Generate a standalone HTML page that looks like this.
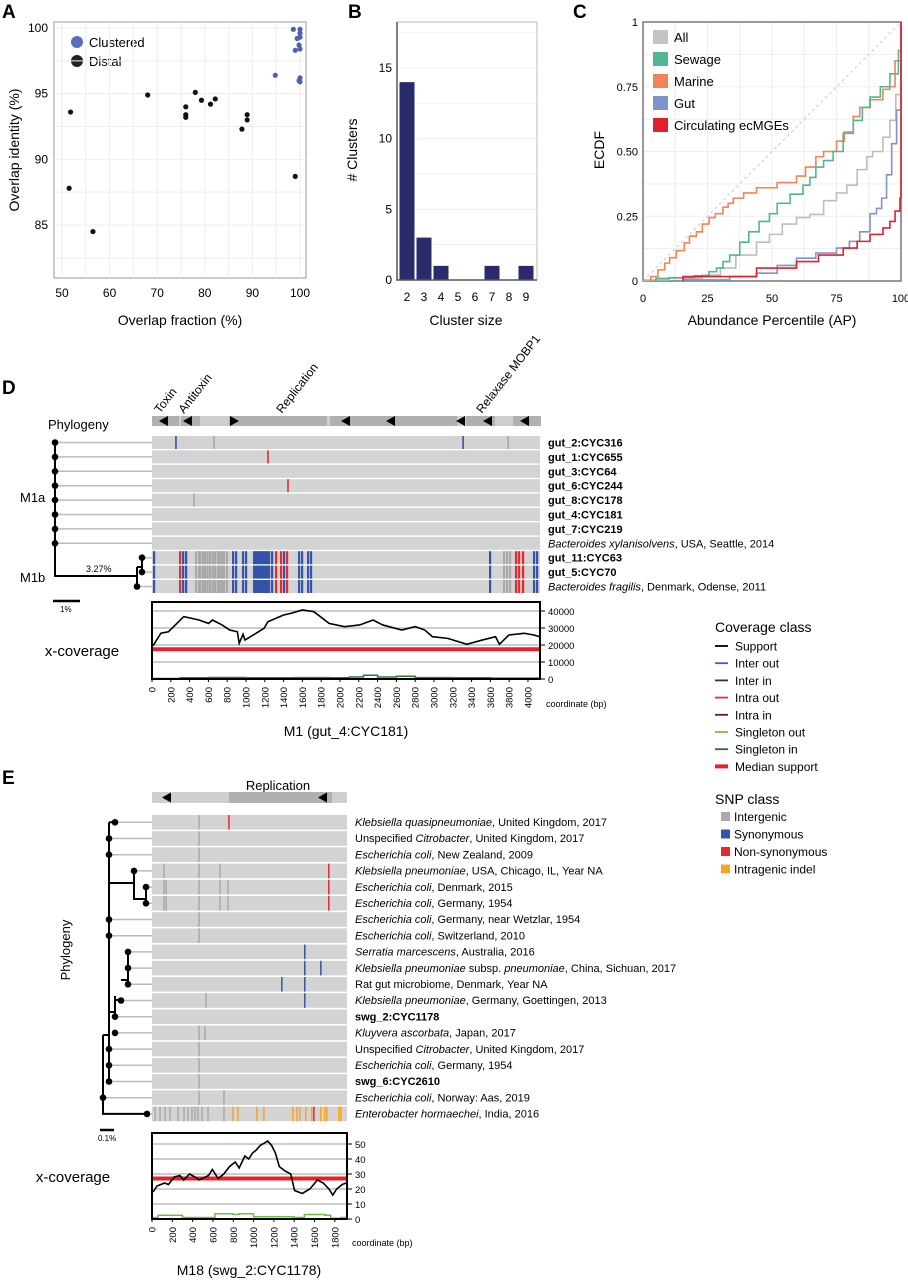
<!DOCTYPE html>
<html><head><meta charset="utf-8"><style>
html,body{margin:0;padding:0;background:#fff}
svg{display:block;font-family:"Liberation Sans",Arial,sans-serif}
</style></head><body>
<svg id="fig" width="908" height="1280" viewBox="0 0 908 1280" xmlns="http://www.w3.org/2000/svg">
<rect x="0" y="0" width="908" height="1280" fill="#fff"/>
<!-- Panel letters -->
<text x="2" y="18" font-size="19" font-weight="bold">A</text>
<text x="348" y="18" font-size="19" font-weight="bold">B</text>
<text x="573" y="18" font-size="19" font-weight="bold">C</text>
<text x="2" y="394" font-size="19" font-weight="bold">D</text>
<text x="2" y="784" font-size="19" font-weight="bold">E</text>

<!-- Panel A static -->
<g id="pa">
<rect x="54" y="22" width="252" height="256" fill="none" stroke="#999" stroke-width="1"/>
<text transform="translate(19,150) rotate(-90)" text-anchor="middle" font-size="14">Overlap identity (%)</text>
<text x="180" y="325" text-anchor="middle" font-size="14">Overlap fraction (%)</text>
<circle cx="77" cy="42" r="6" fill="#5b6cb8"/>
<text x="89" y="47" font-size="13">Clustered</text>
<circle cx="77" cy="61" r="6" fill="#222"/>
<text x="89" y="66" font-size="13">Distal</text>
</g>
<!-- Panel B static -->
<g id="pb">
<rect x="397" y="22" width="140" height="258" fill="none" stroke="#bbb" stroke-width="1"/>
<text transform="translate(357,150) rotate(-90)" text-anchor="middle" font-size="14"># Clusters</text>
<text x="466" y="325" text-anchor="middle" font-size="14">Cluster size</text>
</g>
<!-- Panel C static -->
<g id="pc">
<text transform="translate(604,150) rotate(-90)" text-anchor="middle" font-size="14">ECDF</text>
<text x="772" y="325" text-anchor="middle" font-size="14">Abundance Percentile (AP)</text>
</g>

<!-- Panel D static -->
<g id="pd">
<text x="48" y="429" font-size="13">Phylogeny</text>
<text transform="translate(160,414) rotate(-52)" font-size="12">Toxin</text>
<text transform="translate(184,414) rotate(-52)" font-size="12">Antitoxin</text>
<text transform="translate(282,414) rotate(-52)" font-size="12">Replication</text>
<text transform="translate(482,414) rotate(-52)" font-size="12">Relaxase MOBP1</text>
<text x="20" y="502" font-size="13">M1a</text>
<text x="20" y="582" font-size="13">M1b</text>
<text x="86" y="572" font-size="9">3.27%</text>
<line x1="53" y1="601" x2="80" y2="601" stroke="#000" stroke-width="2.5"/>
<text x="60" y="612" font-size="8">1%</text>
<g font-size="11">
<text x="548" y="446.5" font-weight="bold">gut_2:CYC316</text>
<text x="548" y="460.9" font-weight="bold">gut_1:CYC655</text>
<text x="548" y="475.3" font-weight="bold">gut_3:CYC64</text>
<text x="548" y="489.7" font-weight="bold">gut_6:CYC244</text>
<text x="548" y="504.1" font-weight="bold">gut_8:CYC178</text>
<text x="548" y="518.5" font-weight="bold">gut_4:CYC181</text>
<text x="548" y="532.9" font-weight="bold">gut_7:CYC219</text>
<text x="548" y="547.3"><tspan font-style="italic">Bacteroides xylanisolvens</tspan>, USA, Seattle, 2014</text>
<text x="548" y="561.7" font-weight="bold">gut_11:CYC63</text>
<text x="548" y="576.1" font-weight="bold">gut_5:CYC70</text>
<text x="548" y="590.5"><tspan font-style="italic">Bacteroides fragilis</tspan>, Denmark, Odense, 2011</text>
</g>
<text x="82" y="656" text-anchor="middle" font-size="15">x-coverage</text>
<text x="546" y="707" font-size="9">coordinate (bp)</text>
<text x="346" y="736" text-anchor="middle" font-size="14">M1 (gut_4:CYC181)</text>
</g>

<!-- Legend -->
<g id="legend" font-size="12">
<text x="715" y="632" font-size="14">Coverage class</text>
<text x="715" y="804" font-size="14">SNP class</text>
</g>

<!-- Panel E static -->
<g id="pe">
<text x="278" y="790" text-anchor="middle" font-size="13">Replication</text>
<text transform="translate(70,950) rotate(-90)" text-anchor="middle" font-size="13">Phylogeny</text>
<line x1="100" y1="1130" x2="114" y2="1130" stroke="#000" stroke-width="2.5"/>
<text x="98" y="1141" font-size="8">0.1%</text>
<g font-size="11">
<text x="355" y="826"><tspan font-style="italic">Klebsiella quasipneumoniae</tspan>, United Kingdom, 2017</text>
<text x="355" y="842.2">Unspecified <tspan font-style="italic">Citrobacter</tspan>, United Kingdom, 2017</text>
<text x="355" y="858.4"><tspan font-style="italic">Escherichia coli</tspan>, New Zealand, 2009</text>
<text x="355" y="874.6"><tspan font-style="italic">Klebsiella pneumoniae</tspan>, USA, Chicago, IL, Year NA</text>
<text x="355" y="890.8"><tspan font-style="italic">Escherichia coli</tspan>, Denmark, 2015</text>
<text x="355" y="907"><tspan font-style="italic">Escherichia coli</tspan>, Germany, 1954</text>
<text x="355" y="923.2"><tspan font-style="italic">Escherichia coli</tspan>, Germany, near Wetzlar, 1954</text>
<text x="355" y="939.4"><tspan font-style="italic">Escherichia coli</tspan>, Switzerland, 2010</text>
<text x="355" y="955.6"><tspan font-style="italic">Serratia marcescens</tspan>, Australia, 2016</text>
<text x="355" y="971.8"><tspan font-style="italic">Klebsiella pneumoniae</tspan> subsp. <tspan font-style="italic">pneumoniae</tspan>, China, Sichuan, 2017</text>
<text x="355" y="988">Rat gut microbiome, Denmark, Year NA</text>
<text x="355" y="1004.2"><tspan font-style="italic">Klebsiella pneumoniae</tspan>, Germany, Goettingen, 2013</text>
<text x="355" y="1020.4" font-weight="bold">swg_2:CYC1178</text>
<text x="355" y="1036.6"><tspan font-style="italic">Kluyvera ascorbata</tspan>, Japan, 2017</text>
<text x="355" y="1052.8">Unspecified <tspan font-style="italic">Citrobacter</tspan>, United Kingdom, 2017</text>
<text x="355" y="1069"><tspan font-style="italic">Escherichia coli</tspan>, Germany, 1954</text>
<text x="355" y="1085.2" font-weight="bold">swg_6:CYC2610</text>
<text x="355" y="1101.4"><tspan font-style="italic">Escherichia coli</tspan>, Norway: Aas, 2019</text>
<text x="355" y="1117.6"><tspan font-style="italic">Enterobacter hormaechei</tspan>, India, 2016</text>
</g>
<text x="73" y="1182" text-anchor="middle" font-size="15">x-coverage</text>
<text x="352" y="1246" font-size="9">coordinate (bp)</text>
<text x="249" y="1275" text-anchor="middle" font-size="14">M18 (swg_2:CYC1178)</text>
</g>
</svg>
<script>
// ---------- DATA ----------
const A_distal_x = [51.8,51.5,56.5,68,76,76,76,78,79.3,81.2,82.2,87.8,88.9,88.9,99];
const A_distal_y = [93.6,87.8,84.5,94.9,94,93.4,93.2,95.1,94.5,94.2,94.6,92.3,93,93.4,88.7];
const A_clust_x = [94.8,98.6,99,99.4,99.8,100,100,100,100,100,100,99.8];
const A_clust_y = [96.4,99.9,98.3,99.2,98.7,99.9,99.6,99.3,98.4,96.2,95.9,96];
const A_xticks = [50,60,70,80,90,100];
const A_yticks = [85,90,95,100];

const B_sizes = [2,3,4,5,6,7,8,9];
const B_counts = [14,3,1,0,0,1,0,1];
const B_yticks = [0,5,10,15];

const C_xticks = [0,25,50,75,100];
const C_yticks = [0,0.25,0.5,0.75,1];
const C_yticklabels = ["0","0.25","0.50","0.75","1"];
const C_marine_x = [3,5.8,8.4,10.3,12.9,16,18,20.7,23,25.6,28,31,33,35,39,44,52,59.5,63,67,70,75,78,81.5,84,88,93,95.7,97.7,99.6,100];
const C_marine_y = [0.017,0.043,0.069,0.09,0.117,0.147,0.173,0.19,0.22,0.245,0.26,0.285,0.30,0.32,0.34,0.36,0.38,0.405,0.44,0.48,0.50,0.54,0.575,0.635,0.67,0.70,0.74,0.75,0.85,0.85,1];
const C_sewage_x = [4,5,10,20,25.6,28.5,31,33.6,37.5,41,45,49,52,57,62,64.7,67,70,73.7,77.6,81.5,85,88,92,95.7,99,100,100];
const C_sewage_y = [0,0.01,0.013,0.02,0.036,0.05,0.075,0.10,0.15,0.19,0.23,0.26,0.30,0.335,0.37,0.40,0.44,0.465,0.50,0.57,0.62,0.67,0.71,0.75,0.80,0.89,0.97,1];
const C_all_x = [1,10,23,30,36,44,49,54,59.5,64.7,70,75,79,83,86.7,89,93,95.7,98,100,100];
const C_all_y = [0.004,0.01,0.023,0.05,0.10,0.15,0.18,0.22,0.245,0.257,0.31,0.34,0.37,0.43,0.48,0.50,0.555,0.62,0.72,0.85,1];
const C_gut_x = [15.5,33.6,44,52,59.5,67,75,80,84,88,90.5,92.5,94.4,96.4,98.3,100,100];
const C_gut_y = [0.004,0.017,0.03,0.06,0.088,0.108,0.127,0.153,0.19,0.26,0.28,0.32,0.41,0.53,0.66,0.83,1];
const C_circ_x = [15.5,44,59.5,68,77.6,83,88,93,95.7,97.7,99.6,100];
const C_circ_y = [0.017,0.05,0.075,0.10,0.127,0.153,0.18,0.205,0.23,0.27,0.32,1];

const D_rows = ["gut_2","gut_1","gut_3","gut_6","gut_8","gut_4","gut_7","bxyl","gut_11","gut_5","bfrag"];
const D_snp_row = [0,0,0,0,1,3,4];
const D_snp_bp = [255,660,3310,3790,1234,1447,447];
const D_snp_cls = ["syn","ig","syn","ig","non","non","ig"];
const D_clu_bp = [21,298,330,362,468,500,511,540,564,590,617,645,670,700,723,745,766,798,862,894,968,1000,1085,1100,1117,1133,1149,1165,1181,1197,1213,1229,1245,1277,1319,1372,1404,1436,1564,1596,1660,1691,3596,3745,3777,3809,3872,3904,3947,4064,4096];
const D_clu_cls = ["syn","non","syn","syn","ig","ig","ig","ig","ig","ig","ig","ig","ig","ig","ig","ig","ig","ig","syn","syn","syn","syn","syn","syn","syn","syn","syn","syn","syn","syn","syn","syn","syn","syn","non","non","syn","non","syn","syn","syn","syn","syn","ig","ig","ig","non","non","non","syn","syn"];
const D_cov_bp = [12,94,175,338,500,602,643,745,826,908,928,969,989,1192,1233,1396,1477,1600,1722,1884,2047,2210,2352,2454,2658,2800,2902,2983,3146,3350,3512,3655,3696,3797,3960,4062,4123];
const D_cov_val = [19600,26900,27800,36700,34700,32700,34700,31800,28800,27800,21000,26300,22900,29800,33700,37600,38600,40600,39600,32700,30800,31800,34700,31800,28800,30800,28800,24900,23900,20400,22900,24900,20400,25900,26900,25900,24900];
const D_sing_bp = [0,300,600,1000,1500,1900,2100,2250,2400,2600,2800,3200,3600,4123];
const D_sing_val = [300,700,900,700,800,700,1200,2200,1200,1600,800,700,500,400];
const D_median = 17500;
const D_yticks = [0,10000,20000,30000,40000];
const D_xticks = [0,200,400,600,800,1000,1200,1400,1600,1800,2000,2200,2400,2600,2800,3000,3200,3400,3600,3800,4000];

const E_snp_row = [0,1,2,6,7,13,14,15,16,17,0,3,4,5,3,4,5,4,5,3,4,5,8,9,9,10,10,11,11,13,17];
const E_snp_bp = [462,462,462,462,462,462,462,462,462,462,757,462,462,462,118,118,118,138,138,669,669,669,1504,1504,1662,1278,1504,531,1504,521,708];
const E_snp_cls = ["ig","ig","ig","ig","ig","ig","ig","ig","ig","ig","non","ig","ig","ig","ig","ig","ig","ig","ig","ig","ig","ig","syn","syn","syn","syn","syn","ig","syn","ig","ig"];
const E_extra_bp = [747,747,1740,1740,1740];
const E_extra_row = [4,5,3,4,5];
const E_extra_cls = ["ig","ig","non","non","non"];
const E_last_bp = [30,79,128,177,256,315,354,393,423,452,492,551,708,797,846,1032,1101,1386,1426,1455,1514,1573,1593,1662,1701,1721,1839,1858];
const E_last_cls = ["ig","ig","ig","ig","ig","ig","ig","ig","ig","ig","ig","ig","ig","ind","ind","ind","ind","ind","ind","ind","ind","ind","non","ind","ind","ind","ind","ind"];
const E_cov_bp = [11,49,124,162,218,275,312,369,425,463,557,594,651,707,764,820,858,914,952,990,1027,1065,1140,1178,1215,1253,1310,1366,1404,1479,1554,1629,1686,1742,1780,1818,1874,1912];
const E_cov_val = [18,22,24,23,28,29,26,30,28,26,29,33,27,30,35,38,34,42,40,44,46,49,52,49,44,35,32,30,19,17,20,26,24,20,16,20,23,24];
const E_sing_bp = [0,60,200,300,580,620,800,860,1000,1400,1500,1700,1760,1860,1920];
const E_sing_val = [1,2.5,2.5,1,1,3.5,3,3.5,1.5,1,3,2.5,0.5,1,3];
const E_median = 27;
const E_yticks = [0,10,20,30,40,50];
const E_xticks = [0,200,400,600,800,1000,1200,1400,1600,1800];

const LEG_cov_names = ["Support","Inter out","Inter in","Intra out","Intra in","Singleton out","Singleton in","Median support"];
const LEG_snp_names = ["Intergenic","Synonymous","Non-synonymous","Intragenic indel"];

// ---------- helpers ----------
const NS = "http://www.w3.org/2000/svg";
const svg = document.getElementById('fig');
function mk(tag, attrs, parent) {
  const e = document.createElementNS(NS, tag);
  for (const k in attrs) e.setAttribute(k, attrs[k]);
  (parent || svg).appendChild(e);
  return e;
}
function lin(d0, d1, r0, r1) { return v => r0 + (v - d0) * (r1 - r0) / (d1 - d0); }
function tx(str, attrs, parent) { const t = mk('text', attrs, parent); t.textContent = str; return t; }
const SNPC = {ig:"#a9a9a9", syn:"#3553a8", non:"#e42a2f", ind:"#f5a623"};

// ---------- Panel A ----------
(function(){
  const g = document.getElementById('pa');
  const x = lin(50, 100, 62, 300), y = lin(100, 85, 28, 225);
  for (let v = 50; v <= 100; v += 5) { const l = mk('line', {x1:x(v), x2:x(v), y1:22, y2:278, stroke:"#eee"}, g);
    
     }
  for (let v = 82.5; v <= 100; v += 2.5) { const l = mk('line', {x1:54, x2:306, y1:y(v), y2:y(v), stroke:"#eee"}, g);
    
     }
  A_xticks.forEach(v => { const t = tx(v, {x:x(v), y:297, "text-anchor":"middle", "font-size":12}, g);
    
     });
  A_yticks.forEach(v => { const t = tx(v, {x:48, y:y(v)+4, "text-anchor":"end", "font-size":12}, g);
    
     });
  A_distal_x.forEach((v,i) => { const c = mk('circle', {cx:x(v), cy:y(A_distal_y[i]), r:2.6, fill:"#111"}, g);
    
     });
  A_clust_x.forEach((v,i) => { const c = mk('circle', {cx:x(v), cy:y(A_clust_y[i]), r:2.6, fill:"#4d62b3"}, g);
    
     });
})();

// ---------- Panel B ----------
(function(){
  const g = document.getElementById('pb');
  const y = lin(0, 15, 280, 68);
  const x = s => 407 + (s - 2) * 17;
  [2.5,5,7.5,10,12.5,15,17.5].forEach(v => { const l = mk('line', {x1:397, x2:537, y1:y(v), y2:y(v), stroke:"#f0f0f0"}, g);
    
     });
  B_sizes.forEach((s,i) => {
    const r = mk('rect', {x:x(s)-7.5, y:y(B_counts[i]), width:15, height:280-y(B_counts[i]), fill:"#2b2a6b"}, g);
    
    
    const t = tx(s, {x:x(s), y:301, "text-anchor":"middle", "font-size":12}, g);
    
    
  });
  B_yticks.forEach(v => { const t = tx(v, {x:392, y:y(v)+4, "text-anchor":"end", "font-size":12}, g);
    
     });
  const ax = mk('path', {d:"M397 22 V280 H537", fill:"none", stroke:"#555", "stroke-width":1.5}, g);
  
  
})();

// ---------- Panel C ----------
(function(){
  const g = document.getElementById('pc');
  const x = lin(0, 100, 643, 901), y = lin(0, 1, 281, 22);
  for (let v = 0; v <= 100; v += 12.5) { const l = mk('line', {x1:x(v), x2:x(v), y1:22, y2:281, stroke:"#eee"}, g);
    
     }
  for (let v = 0; v <= 1; v += 0.125) { const l = mk('line', {x1:643, x2:901, y1:y(v), y2:y(v), stroke:"#eee"}, g);
    
     }
  const fr = mk('rect', {x:643, y:22, width:258, height:259, fill:"none", stroke:"#777", "stroke-width":1.5}, g);
  
  
  const dg = mk('line', {x1:x(0), y1:y(0), x2:x(100), y2:y(1), stroke:"#ccc", "stroke-dasharray":"3,3"}, g);
  
  
  function step(xs, ys, col, name) {
    let d = "M" + x(xs[0]) + " " + y(0) + " V" + y(ys[0]);
    for (let i = 1; i < xs.length; i++) d += " H" + x(xs[i]) + " V" + y(ys[i]);
    const p = mk('path', {d:d, fill:"none", stroke:col, "stroke-width":1.6}, g);
    
    
  }
  step(C_all_x, C_all_y, "#bdbdbd", "c-line-all");
  step(C_marine_x, C_marine_y, "#f08458", "c-line-marine");
  step(C_sewage_x, C_sewage_y, "#4fb893", "c-line-sewage");
  step(C_gut_x, C_gut_y, "#8093cc", "c-line-gut");
  step(C_circ_x, C_circ_y, "#e0202a", "c-line-circulating");
  C_xticks.forEach(v => { const t = tx(v, {x:x(v), y:302, "text-anchor":"middle", "font-size":11}, g);
    
     });
  C_yticks.forEach((v,i) => { const t = tx(C_yticklabels[i], {x:638, y:y(v)+4, "text-anchor":"end", "font-size":11}, g);
    
     });
  const lg = [["All","#c4c4c4"],["Sewage","#4fb893"],["Marine","#f08458"],["Gut","#8093cc"],["Circulating ecMGEs","#e0202a"]];
  lg.forEach((e,i) => {
    const r = mk('rect', {x:653, y:30+i*22, width:15, height:14, fill:e[1]}, g);
    
    
    const t = tx(e[0], {x:674, y:42+i*22, "font-size":13}, g);
    
    
  });
})();

// ---------- SNP-track panels ----------
function geneBar(g, x0, x1, y0, h, darks, arrows, name) {
  const b = mk('rect', {x:x0, y:y0, width:x1-x0, height:h, fill:"#cfcfcf"}, g);
  
  
  darks.forEach(s => { const r = mk('rect', {x:s[0], y:y0, width:s[1]-s[0], height:h, fill:"#b0b0b0"}, g);
    
     });
  arrows.forEach(a => {
    const cx = a[0], m = y0 + h/2, dir = a[1];
    const pts = dir < 0 ? `${cx-5},${m} ${cx+4},${m-5} ${cx+4},${m+5}` : `${cx+5},${m} ${cx-4},${m-5} ${cx-4},${m+5}`;
    const p = mk('polygon', {points:pts, fill:"#000"}, g);
    
    
  });
}
function dot(g, cx, cy, name) {
  const c = mk('circle', {cx:cx, cy:cy, r:3.3, fill:"#000"}, g);
  
  
}
function ln(g, d, col, w, name) {
  const p = mk('path', {d:d, fill:"none", stroke:col, "stroke-width":w}, g);
  
  
}
function covPlot(g, o) {
  const x = lin(0, o.bpMax, o.x0, o.x1), y = lin(0, o.yref, o.yb, o.yrefPx);
  o.yticks.forEach(v => {
    if (v > 0) ln(g, `M${o.x0} ${y(v)} H${o.x1}`, "#bdbdbd", 1.5, 'coverage-grid');
    ln(g, `M${o.x1} ${y(v)} h5`, "#000", 1, 'coverage-y-tick');
    const t = tx(v, {x:o.x1+8, y:y(v)+4, "font-size":o.fs}, g);
    
    
  });
  ln(g, `M${o.x0} ${y(o.median)} H${o.x1}`, "#e8202a", 4, 'coverage-median-support');
  let d = "";
  o.sbp.forEach((b,i) => { d += (i ? " H" : "M") + x(b) + (i ? " V" : " ") + y(o.sval[i]); });
  ln(g, d, o.singCol, 1.5, 'coverage-singleton');
  d = "";
  o.bp.forEach((b,i) => { d += (i ? " L" : "M") + x(b) + " " + y(o.val[i]); });
  ln(g, d, "#000", 1.6, 'coverage-support-line');
  const fr = mk('rect', {x:o.x0, y:o.yt, width:o.x1-o.x0, height:o.yb-o.yt, fill:"none", stroke:"#000", "stroke-width":2}, g);
  
  
  o.xticks.forEach(v => {
    ln(g, `M${x(v)} ${o.yb} v3`, "#000", 1, 'coverage-x-tick');
    const t = tx(v, {x:0, y:0, "text-anchor":"end", "font-size":o.fs, transform:`translate(${x(v)+3.5},${o.yb+8}) rotate(-90)`}, g);
    
    
  });
}

// ---------- Panel D ----------
(function(){
  const g = document.getElementById('pd');
  geneBar(g, 152, 541, 416, 10, [[152,179],[181,200],[229,327],[330,352],[352,457],[466,495],[513,541]],
    [[164,-1],[188,-1],[234,1],[346,-1],[391,-1],[461,-1],[488,-1],[525,-1]], 'd-gene-map');
  const x = lin(0, 4128, 152, 540);
  const rowTop = i => 436 + i*14.4, rowC = i => 442.5 + i*14.4;
  D_rows.forEach((r,i) => {
    const b = mk('rect', {x:152, y:rowTop(i), width:388, height:13, fill:"#d3d3d3"}, g);
    
    
  });
  D_snp_bp.forEach((b,i) => {
    const r = mk('rect', {x:x(b)-0.8, y:rowTop(D_snp_row[i]), width:1.6, height:13, fill:SNPC[D_snp_cls[i]]}, g);
    
    
  });
  [8,9,10].forEach(row => D_clu_bp.forEach((b,i) => {
    const r = mk('rect', {x:x(b)-1, y:rowTop(row), width:2.2, height:13, fill:SNPC[D_clu_cls[i]]}, g);
    
    
  }));
  // tree
  for (let i = 0; i < 11; i++) {
    const nx = i < 8 ? 55 : (i < 10 ? 142 : 137);
    ln(g, `M${nx} ${rowC(i)} H152`, "#bbb", 1.5, 'd-tree-leaf-branch');
  }
  ln(g, `M55 ${rowC(0)} V576 H137`, "#000", 2, 'd-tree-backbone');
  ln(g, `M137 567 V${rowC(10)}`, "#000", 2, 'd-tree-m1b-node');
  ln(g, `M137 567 H142 M142 ${rowC(8)} V${rowC(9)}`, "#000", 2, 'd-tree-inner-node');
  for (let i = 0; i < 11; i++) dot(g, i < 8 ? 55 : (i < 10 ? 142 : 137), rowC(i), 'd-tree-tip');
  covPlot(g, {x0:152, x1:540, yt:602, yb:679, yref:40000, yrefPx:611, bpMax:4128, yticks:D_yticks, xticks:D_xticks,
    bp:D_cov_bp, val:D_cov_val, sbp:D_sing_bp, sval:D_sing_val, median:D_median, singCol:"#2f7a34", fs:9.5});
})();

// ---------- Legend ----------
(function(){
  const g = document.getElementById('legend');
  const cols = ["#000","#3b5bc8","#2c2c6e","#e8303a","#6e1a22","#7cc242","#2e6b34","#e8202a"];
  LEG_cov_names.forEach((n,i) => {
    const yy = 646 + i*17.2;
    ln(g, `M715 ${yy} H728`, cols[i], i === 7 ? 4 : 1.8, 'legend-coverage-line');
    const t = tx(n, {x:735, y:yy+4.5}, g);
    
    
  });
  const sc = ["#aaa","#3553a8","#e42a2f","#f5a623"];
  LEG_snp_names.forEach((n,i) => {
    const yy = 817 + i*17.5;
    const r = mk('rect', {x:721, y:yy-5, width:9, height:9, fill:sc[i]}, g);
    
    
    const t = tx(n, {x:734, y:yy+4}, g);
    
    
  });
})();

// ---------- Panel E ----------
(function(){
  const g = document.getElementById('pe');
  geneBar(g, 152, 347, 792, 11, [[229,332]], [[167,-1],[323,-1]], 'e-gene-map');
  const x = lin(0, 1920, 152, 347);
  const rowTop = i => 815 + i*16.2, rowC = i => 822.3 + i*16.2;
  for (let i = 0; i < 19; i++) {
    const b = mk('rect', {x:152, y:rowTop(i), width:195, height:14.6, fill:"#d3d3d3"}, g);
    
    
  }
  function mark(b, row, cls) {
    const r = mk('rect', {x:x(b)-0.7, y:rowTop(row), width:1.5, height:14.6, fill:SNPC[cls]}, g);
    
    
  }
  E_snp_bp.forEach((b,i) => mark(b, E_snp_row[i], E_snp_cls[i]));
  E_extra_bp.forEach((b,i) => mark(b, E_extra_row[i], E_extra_cls[i]));
  E_last_bp.forEach((b,i) => mark(b, 18, E_last_cls[i]));
  // tree
  const tipX = [115,109,109,134,146,146,109,109,128,128,128,121,115,115,109,109,109,103,147];
  tipX.forEach((tx0,i) => ln(g, `M${tx0} ${rowC(i)} H152`, "#bbb", 1.5, 'e-tree-leaf-branch'));
  ln(g, `M109 ${rowC(0)} V${rowC(16)} M109 ${rowC(0)} H115`, "#000", 2, 'e-tree-backbone');
  ln(g, `M103 1035 V${rowC(18)} H147 M103 1035 H109`, "#000", 2, 'e-tree-root');
  ln(g, `M109 883 H134 V${rowC(3)} M134 883 V899 H146 M146 ${rowC(4)} V${rowC(5)}`, "#000", 2, 'e-tree-klebsiella-clade');
  ln(g, `M109 1012 H115 V996 M115 ${rowC(12)} V996 M115 1000 H121 V${rowC(11)} M121 980 H128 M128 ${rowC(8)} V${rowC(10)}`, "#000", 2, 'e-tree-serratia-clade');
  tipX.forEach((tx0,i) => dot(g, tx0, rowC(i), 'e-tree-tip'));
  covPlot(g, {x0:152, x1:347, yt:1133, yb:1219, yref:50, yrefPx:1144, bpMax:1920, yticks:E_yticks, xticks:E_xticks,
    bp:E_cov_bp, val:E_cov_val, sbp:E_sing_bp, sval:E_sing_val, median:E_median, singCol:"#6cbf45", fs:9.5});
})();
</script>
</body></html>
